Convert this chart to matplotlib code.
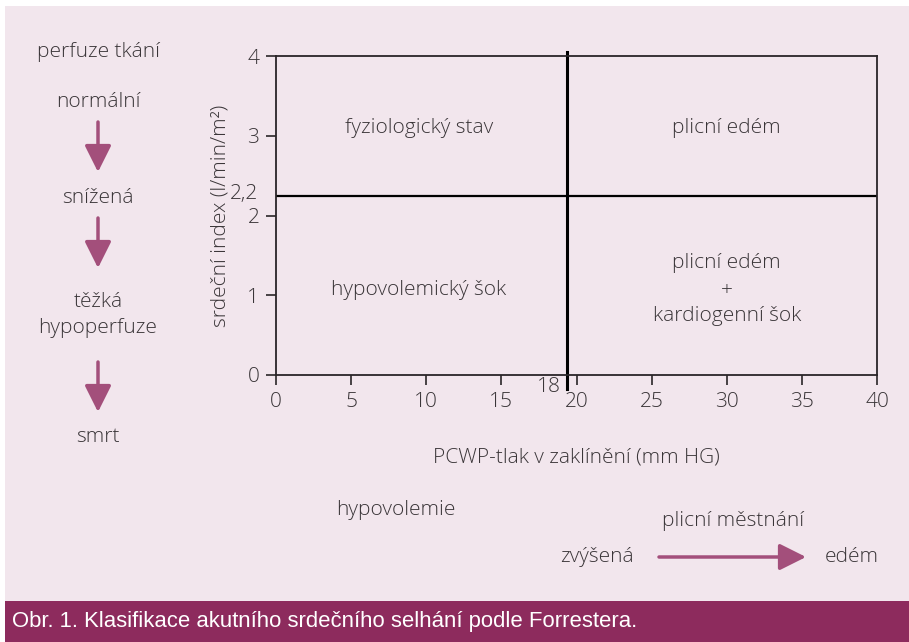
import matplotlib
matplotlib.use("Agg")
import matplotlib.pyplot as plt
from matplotlib.patches import Rectangle, FancyArrowPatch
from matplotlib import font_manager

# data
x_ticks = [0, 5, 10, 15, 20, 25, 30, 35, 40]
y_ticks = [0, 1, 2, 3, 4]
pcwp_limit = 19.37      # drawn position of the "18" line
pcwp_label = "18"
ci_limit = 2.245        # drawn position of the "2,2" line
ci_label = "2,2"
quadrants = [
    (9.5, 3.1, "fyziologický stav"),
    (30, 3.1, "plicní edém"),
    (9.5, 1.07, "hypovolemický šok"),
    (30, 1.07, "plicní edém\n+\nkardiogenní šok"),
]
perfusion = ["normální", "snížená", "těžká\nhypoperfuze", "smrt"]

PINK = "#f2e6ed"
BANNER = "#8d2b5d"
ARROW = "#a34f7b"
TXT = "#3a3538"
FS = 15

names = {f.name for f in font_manager.fontManager.ttflist}
plt.rcParams['font.family'] = ['Open Sans', 'DejaVu Sans']
plt.rcParams['font.weight'] = 'light'
plt.rcParams['axes.labelweight'] = 'light'
narrow = 'Liberation Sans Narrow' if 'Liberation Sans Narrow' in names else 'Liberation Sans'

W, H = 909, 642
fig = plt.figure(figsize=(W / 100, H / 100), dpi=100)
fig.patch.set_facecolor("white")


def px(x, y):
    return x / W, 1 - y / H


# background panel + caption banner
fig.patches.append(Rectangle(px(5, 601), (W - 5) / W, (601 - 6) / H,
                             transform=fig.transFigure, facecolor=PINK, edgecolor="none", zorder=-2))
fig.patches.append(Rectangle(px(5, 642), (W - 5) / W, 41 / H,
                             transform=fig.transFigure, facecolor=BANNER, edgecolor="none", zorder=-2))
fig.text(*px(12, 622), "Obr. 1. Klasifikace akutního srdečního selhání podle Forrestera.",
         family=narrow, weight="normal", color="white", fontsize=15.9, va="center", ha="left")

# main axes
l, b = px(276, 375)
r, t = px(877, 56)
ax = fig.add_axes([l, b, r - l, t - b])
ax.set_facecolor("none")
ax.set_xlim(0, 40)
ax.set_ylim(0, 4)
ax.set_xticks(x_ticks)
ax.set_yticks(y_ticks)
ax.tick_params(direction="out", length=7, width=1.2, color="#2a2528",
               labelsize=15, labelcolor=TXT, pad=5)
for s in ax.spines.values():
    s.set_linewidth(1.3)
    s.set_color("#2a2528")

ax.axhline(ci_limit, color="black", lw=1.6)
ax.plot([pcwp_limit, pcwp_limit], [-0.17, 4.05], color="black", lw=2.2, clip_on=False)
ax.text(pcwp_limit - 0.4, -0.03, pcwp_label, ha="right", va="top", fontsize=15, color=TXT)
ax.text(-1.2, ci_limit + 0.03, ci_label, ha="right", va="center", fontsize=15, color=TXT)

for qx, qy, label in quadrants:
    ax.text(qx, qy, label, ha="center", va="center", fontsize=FS, color=TXT, linespacing=1.45)

ax.set_xlabel("PCWP-tlak v zaklínění (mm HG)", fontsize=FS, color=TXT, weight="light", labelpad=26)
ax.set_ylabel("srdeční index (l/min/m²)", fontsize=FS, color=TXT, weight="light", labelpad=12)

# left column: tissue perfusion
fig.text(*px(98, 52), "perfuze tkání", ha="center", va="center", fontsize=FS, color=TXT)
text_y = [102, 198, 315, 437]
for ty, label in zip(text_y, perfusion):
    fig.text(*px(98, ty), label, ha="center", va="center", fontsize=FS, color=TXT, linespacing=1.35)

arrow_kw = dict(arrowstyle="-|>,head_length=0.9,head_width=0.45", color=ARROW, lw=2.5,
                shrinkA=0, shrinkB=0, mutation_scale=18)
for y0, y1 in [(122, 172), (218, 268), (362, 412)]:
    fig.add_artist(FancyArrowPatch(px(98, y0), px(98, y1), transform=fig.transFigure, **arrow_kw))

# bottom notes
fig.text(*px(396, 510), "hypovolemie", ha="center", va="center", fontsize=FS, color=TXT)
fig.text(*px(733, 521), "plicní městnání", ha="center", va="center", fontsize=FS, color=TXT)
fig.text(*px(597, 557), "zvýšená", ha="center", va="center", fontsize=FS, color=TXT)
fig.text(*px(852, 557), "edém", ha="center", va="center", fontsize=FS, color=TXT)
fig.add_artist(FancyArrowPatch(px(659, 557), px(806, 557), transform=fig.transFigure, **arrow_kw))

fig.savefig("out.png", dpi=100, facecolor=fig.get_facecolor())
